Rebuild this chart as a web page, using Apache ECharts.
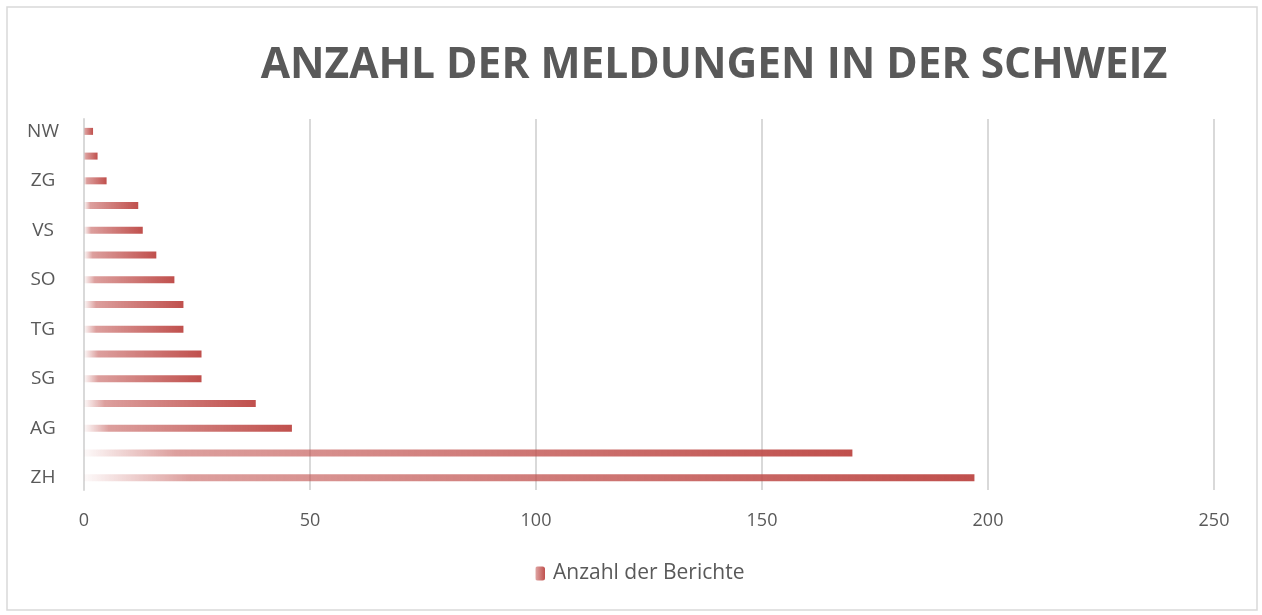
<!DOCTYPE html>
<html lang="de">
<head>
    <meta charset="UTF-8">
    <script src="https://cdn.jsdelivr.net/npm/echarts@6/dist/echarts.min.js"></script>
    <title>Anzahl der Meldungen</title>
    <style>
        html, body { margin: 0; padding: 0; background: #fff; }
        #chart { width: 1262px; height: 615px; }
    </style>
</head>
<body>
<div id="chart"></div>
<script>
    // Kantone, von unten nach oben
    var cantons = ['ZH', 'BE', 'AG', 'BL', 'SG', 'LU', 'TG', 'BS', 'SO', 'GR', 'VS', 'FR', 'ZG', 'SZ', 'NW'];
    var reports = [197, 170, 46, 38, 26, 26, 22, 22, 20, 16, 13, 12, 5, 3, 2];
    var xTicks = [0, 50, 100, 150, 200, 250];

    var red = '192,80,77';
    var barFill = new echarts.graphic.LinearGradient(0, 0, 1, 0, [
        {offset: 0, color: 'rgba(' + red + ',0.03)'},
        {offset: 0.12, color: 'rgba(' + red + ',0.55)'},
        {offset: 1, color: 'rgba(' + red + ',1)'}
    ]);

    var myChart = echarts.init(document.getElementById('chart'));
    var option = {
        animation: false,
        textStyle: {fontFamily: 'Open Sans', color: '#595959'},
        title: {
            text: 'ANZAHL DER MELDUNGEN IN DER SCHWEIZ',
            left: 709,
            top: 39,
            textAlign: 'center',
            textStyle: {fontSize: 42.5, fontWeight: 'bold', color: '#595959', fontFamily: 'Open Sans'}
        },
        grid: {left: 84, right: 48, top: 119, bottom: 125, containLabel: false},
        legend: {
            bottom: 26,
            left: 530,
            itemWidth: 10,
            itemHeight: 14,
            textStyle: {fontSize: 21, color: '#595959', padding: [0, 0, 0, 3]},
            data: ['Anzahl der Berichte']
        },
        xAxis: {
            type: 'value',
            min: xTicks[0],
            max: xTicks[xTicks.length - 1],
            interval: 50,
            axisLine: {show: false},
            axisTick: {show: false},
            axisLabel: {fontSize: 18, color: '#595959', margin: 22},
            splitLine: {lineStyle: {color: '#D9D9D9', width: 2}}
        },
        yAxis: {
            type: 'category',
            data: cantons,
            axisLine: {lineStyle: {color: '#D9D9D9', width: 2}},
            axisTick: {show: false},
            axisLabel: {interval: 1, fontSize: 19, color: '#595959', margin: 41, align: 'center'}
        },
        graphic: [{
            type: 'rect',
            shape: {x: 7, y: 7, width: 1250, height: 603},
            style: {fill: 'none', stroke: '#D9D9D9', lineWidth: 1.5},
            z: -1
        }],
        series: [{
            name: 'Anzahl der Berichte',
            type: 'bar',
            data: reports,
            barWidth: 7,
            itemStyle: {color: barFill}
        }]
    };
    myChart.setOption(option);
</script>
</body>
</html>
